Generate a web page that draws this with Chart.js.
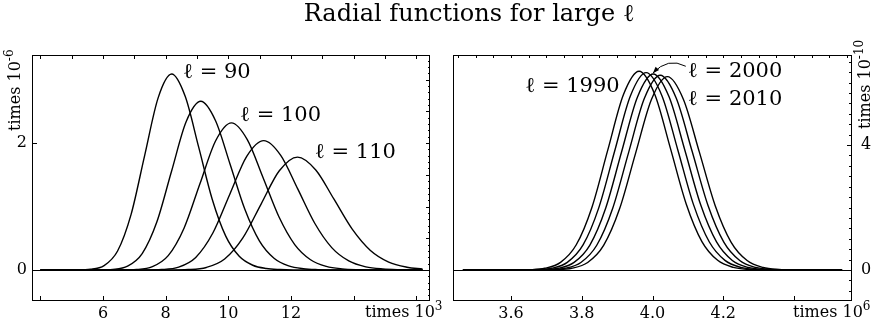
<!DOCTYPE html>
<html>
<head>
<meta charset="utf-8">
<script src="https://cdn.jsdelivr.net/npm/chart.js@4.4.1/dist/chart.umd.min.js"></script>
<style>
  html, body { margin: 0; padding: 0; background: #fff; }
  #page { position: relative; width: 872px; height: 324px; overflow: hidden; font-family: 'DejaVu Serif', serif; color: #000; }
  .panel { position: absolute; top: 0; width: 436px; height: 324px; }
  .title { position: absolute; left: 169px; width: 600px; top: 0; text-align: center; font-size: 24px; line-height: 26px; }
  .mult { position: absolute; font-size: 16px; line-height: 17px; white-space: nowrap; }
  .mult sup { font-size: 12px; vertical-align: 7px; line-height: 0; }
  .vert { transform: rotate(-90deg); transform-origin: left top; }
</style>
</head>
<body>
<div id="page">
  <div class="panel" style="left:0"><canvas id="leftChart" width="436" height="324"></canvas></div>
  <div class="panel" style="left:436px"><canvas id="rightChart" width="436" height="324"></canvas></div>
  <div class="title">Radial functions for large ℓ</div>
  <div class="mult" style="left:365px; top:303px">times 10<sup>3</sup></div>
  <div class="mult" style="left:793px; top:303px">times 10<sup>6</sup></div>
  <div class="mult vert" style="left:6px; top:131px">times 10<sup>-6</sup></div>
  <div class="mult vert" style="left:856px; top:129px">times 10<sup>-10</sup></div>
</div>
<script>
// radius in units of 10^3 (left) and 10^6 (right), radial function in 10^-6 / 10^-10
const radialL90 = [[4,0],[5.168,0.001],[5.600,0.010],[6.032,0.068],[6.463,0.299],[6.895,0.877],[7.327,1.804],[7.758,2.714],[8.190,3.090],[8.622,2.738],[9.053,1.936],[9.485,1.115],[9.917,0.533],[10.348,0.215],[10.780,0.074],[11.212,0.022],[11.643,0.006],[12.075,0.001],[16.2,0]];
const radialL95 = [[4,0],[5.845,0.001],[6.313,0.009],[6.781,0.059],[7.249,0.258],[7.716,0.755],[8.184,1.553],[8.652,2.337],[9.120,2.660],[9.588,2.357],[10.056,1.667],[10.524,0.960],[10.991,0.459],[11.459,0.185],[11.927,0.064],[12.395,0.019],[12.863,0.005],[13.331,0.001],[16.2,0]];
const radialL100 = [[4,0],[6.565,0.001],[7.070,0.007],[7.575,0.051],[8.080,0.225],[8.585,0.658],[9.090,1.355],[9.595,2.038],[10.100,2.320],[10.605,2.056],[11.110,1.454],[11.615,0.838],[12.120,0.400],[12.625,0.161],[13.130,0.056],[13.635,0.017],[14.140,0.004],[14.645,0.001],[16.2,0]];
const radialL105 = [[4,0],[7.328,0.001],[7.871,0.007],[8.414,0.045],[8.958,0.198],[9.501,0.579],[10.044,1.191],[10.587,1.792],[11.130,2.040],[11.673,1.808],[12.216,1.278],[12.759,0.736],[13.302,0.352],[13.846,0.142],[14.389,0.049],[14.932,0.015],[15.475,0.004],[16.018,0.001],[16.2,0]];
const radialL110 = [[4,0],[8.135,0.001],[8.717,0.006],[9.299,0.039],[9.882,0.172],[10.464,0.505],[11.046,1.039],[11.628,1.564],[12.210,1.780],[12.792,1.577],[13.374,1.115],[13.956,0.643],[14.538,0.307],[15.121,0.124],[15.703,0.043],[16.2,0.014]];

const radialL1990 = [[3.464,0],[3.6068,0.001],[3.6512,0.010],[3.6956,0.057],[3.7400,0.247],[3.7845,0.809],[3.8289,2.012],[3.8733,3.828],[3.9177,5.608],[3.9621,6.360],[4.0065,5.618],[4.0509,3.886],[4.0953,2.116],[4.1397,0.912],[4.1842,0.312],[4.2286,0.086],[4.2730,0.019],[4.3174,0.003],[4.536,0]];
const radialL1995 = [[3.464,0],[3.6254,0.001],[3.6700,0.010],[3.7146,0.057],[3.7591,0.246],[3.8037,0.803],[3.8483,1.998],[3.8929,3.802],[3.9374,5.569],[3.9820,6.316],[4.0266,5.579],[4.0712,3.859],[4.1157,2.101],[4.1603,0.906],[4.2049,0.310],[4.2495,0.085],[4.2940,0.019],[4.3386,0.003],[4.536,0]];
const radialL2000 = [[3.464,0],[3.6440,0.001],[3.6888,0.010],[3.7335,0.056],[3.7783,0.244],[3.8230,0.798],[3.8678,1.985],[3.9125,3.776],[3.9573,5.531],[4.0020,6.273],[4.0468,5.541],[4.0915,3.833],[4.1362,2.087],[4.1810,0.900],[4.2257,0.308],[4.2705,0.084],[4.3152,0.019],[4.3600,0.003],[4.536,0]];
const radialL2005 = [[3.464,0],[3.6627,0.001],[3.7076,0.010],[3.7525,0.056],[3.7975,0.242],[3.8424,0.793],[3.8873,1.971],[3.9322,3.750],[3.9771,5.493],[4.0220,6.230],[4.0669,5.503],[4.1118,3.807],[4.1567,2.073],[4.2016,0.893],[4.2466,0.306],[4.2915,0.084],[4.3364,0.018],[4.3813,0.003],[4.536,0]];
const radialL2010 = [[3.464,0],[3.6815,0.001],[3.7265,0.010],[3.7716,0.056],[3.8167,0.241],[3.8618,0.787],[3.9069,1.958],[3.9519,3.725],[3.9970,5.456],[4.0421,6.188],[4.0872,5.466],[4.1323,3.781],[4.1773,2.059],[4.2224,0.887],[4.2675,0.304],[4.3126,0.083],[4.3577,0.018],[4.4027,0.003],[4.536,0]];

const leftXLabels = [6, 8, 10, 12];
const leftYLabels = [0, 2];
const rightXLabels = [3.6, 3.8, 4.0, 4.2];
const rightYLabels = [0, 4];

const FONT = 'DejaVu Serif';

function toSeries(pairs) {
    return {
        data: pairs.map(p => ({ x: p[0], y: p[1] })),
        showLine: true,
        borderColor: '#000',
        borderWidth: 1.4,
        pointRadius: 0,
        fill: false,
        cubicInterpolationMode: 'monotone',
    };
}

// frame, zero line and inward tick marks, placed through the scales
const frameTicks = {
    id: 'frameTicks',
    afterDatasetsDraw(chart, args, opts) {
        const { ctx, chartArea: a, scales: { x, y } } = chart;
        ctx.save();
        ctx.strokeStyle = '#000';
        ctx.lineWidth = 1;
        const y0 = Math.round(y.getPixelForValue(0)) + 0.5;
        ctx.beginPath();
        ctx.moveTo(a.left, y0);
        ctx.lineTo(a.right, y0);
        ctx.stroke();
        ctx.strokeRect(Math.round(a.left) + 0.5, Math.round(a.top) + 0.5, Math.round(a.width) - 1, Math.round(a.height) - 1);

        const marks = (list, side) => {
            list.forEach(m => {
                for (let v = m.from; v <= m.to + 1e-9; v += m.step) {
                    ctx.beginPath();
                    if (side === 'bottom' || side === 'top') {
                        const px = Math.round(x.getPixelForValue(v)) + 0.5;
                        if (px < a.left || px > a.right) continue;
                        const base = side === 'bottom' ? a.bottom : a.top;
                        const dir = side === 'bottom' ? -1 : 1;
                        ctx.moveTo(px, base);
                        ctx.lineTo(px, base + dir * m.len);
                    } else {
                        const py = Math.round(y.getPixelForValue(v)) + 0.5;
                        if (py < a.top || py > a.bottom) continue;
                        const base = side === 'left' ? a.left : a.right;
                        const dir = side === 'left' ? 1 : -1;
                        ctx.moveTo(base, py);
                        ctx.lineTo(base + dir * m.len, py);
                    }
                    ctx.stroke();
                }
            });
        };
        ['bottom', 'top', 'left', 'right'].forEach(s => marks(opts[s] || [], s));
        ctx.restore();
    },
};

const annotate = {
    id: 'annotate',
    afterDatasetsDraw(chart, args, opts) {
        const { ctx, scales: { x, y } } = chart;
        ctx.save();
        ctx.fillStyle = '#000';
        ctx.strokeStyle = '#000';
        ctx.font = '21px "' + FONT + '"';
        ctx.textAlign = 'left';
        ctx.textBaseline = 'middle';
        (opts.labels || []).forEach(l => {
            ctx.fillText(l.text, x.getPixelForValue(l.x), y.getPixelForValue(l.y));
        });
        if (opts.arrow) {
            const s = opts.arrow;
            const sx = x.getPixelForValue(s.from[0]), sy = y.getPixelForValue(s.from[1]);
            const cx = x.getPixelForValue(s.via[0]), cy = y.getPixelForValue(s.via[1]);
            const ex = x.getPixelForValue(s.to[0]), ey = y.getPixelForValue(s.to[1]);
            ctx.lineWidth = 1;
            ctx.beginPath();
            ctx.moveTo(sx, sy);
            ctx.quadraticCurveTo(cx, cy, ex, ey);
            ctx.stroke();
            const ang = Math.atan2(ey - cy, ex - cx);
            ctx.beginPath();
            ctx.moveTo(ex, ey);
            ctx.lineTo(ex - 7 * Math.cos(ang - 0.35), ey - 7 * Math.sin(ang - 0.35));
            ctx.lineTo(ex - 7 * Math.cos(ang + 0.35), ey - 7 * Math.sin(ang + 0.35));
            ctx.closePath();
            ctx.fill();
        }
        ctx.restore();
    },
};

function makeChart(id, series, cfg) {
    return new Chart(document.getElementById(id), {
        type: 'scatter',
        data: { datasets: series.map(toSeries) },
        options: {
            responsive: false,
            animation: false,
            events: [],
            layout: { padding: cfg.padding },
            plugins: {
                legend: { display: false },
                tooltip: { enabled: false },
                frameTicks: cfg.ticks,
                annotate: cfg.notes,
            },
            scales: {
                x: {
                    type: 'linear',
                    min: cfg.xMin,
                    max: cfg.xMax,
                    grid: { display: false, drawTicks: false },
                    border: { display: false },
                    ticks: {
                        autoSkip: false,
                        maxRotation: 0,
                        padding: 3,
                        color: '#000',
                        font: { family: FONT, size: 16 },
                        callback: cfg.xFormat,
                    },
                    afterBuildTicks: s => { s.ticks = cfg.xLabels.map(v => ({ value: v })); },
                    afterFit: s => { s.height = 23; },
                },
                y: {
                    type: 'linear',
                    position: cfg.yPos,
                    min: cfg.yMin,
                    max: cfg.yMax,
                    grid: { display: false, drawTicks: false },
                    border: { display: false },
                    ticks: {
                        autoSkip: false,
                        padding: cfg.yPad,
                        color: '#000',
                        font: { family: FONT, size: 16 },
                        callback: v => String(v),
                    },
                    afterBuildTicks: s => { s.ticks = cfg.yLabels.map(v => ({ value: v })); },
                    afterFit: s => { s.width = cfg.yWidth; },
                },
            },
        },
        plugins: [frameTicks, annotate],
    });
}

makeChart('leftChart', [radialL90, radialL95, radialL100, radialL105, radialL110], {
    padding: { top: 55, left: 0, right: 6, bottom: 0 },
    xMin: 3.73, xMax: 16.44, yMin: -0.49, yMax: 3.39,
    xLabels: leftXLabels, yLabels: leftYLabels,
    xFormat: v => String(v),
    yPos: 'left', yPad: 5, yWidth: 32,
    ticks: {
        bottom: [{ from: 4, to: 16, step: 2, len: 5 }],
        left: [{ from: 0, to: 2, step: 2, len: 5 }],
        top: [{ from: 4, to: 16, step: 1, len: 4 }],
        right: [{ from: -0.5, to: 3.3, step: 0.5, len: 4 }, { from: -0.4, to: 3.3, step: 0.1, len: 2 }],
    },
    notes: {
        labels: [
            { text: 'ℓ = 90', x: 8.55, y: 3.11 },
            { text: 'ℓ = 100', x: 10.37, y: 2.43 },
            { text: 'ℓ = 110', x: 12.76, y: 1.85 },
        ],
    },
});

makeChart('rightChart', [radialL1990, radialL1995, radialL2000, radialL2005, radialL2010], {
    padding: { top: 55, left: 17, right: 0, bottom: 0 },
    xMin: 3.436, xMax: 4.564, yMin: -0.99, yMax: 6.88,
    xLabels: rightXLabels, yLabels: rightYLabels,
    xFormat: v => v.toFixed(1),
    yPos: 'right', yPad: 9, yWidth: 20,
    ticks: {
        bottom: [{ from: 3.6, to: 4.4, step: 0.2, len: 5 }],
        top: [{ from: 3.45, to: 4.55, step: 0.05, len: 3 }],
        right: [{ from: 0, to: 4, step: 4, len: 5 }, { from: -2 / 3, to: 6.7, step: 1 / 3, len: 3 }],
    },
    notes: {
        labels: [
            { text: 'ℓ = 1990', x: 3.640, y: 5.86 },
            { text: 'ℓ = 2000', x: 4.100, y: 6.34 },
            { text: 'ℓ = 2010', x: 4.100, y: 5.45 },
        ],
        arrow: { from: [4.094, 6.52], via: [4.044, 6.82], to: [4.001, 6.30] },
    },
});
</script>
</body>
</html>
